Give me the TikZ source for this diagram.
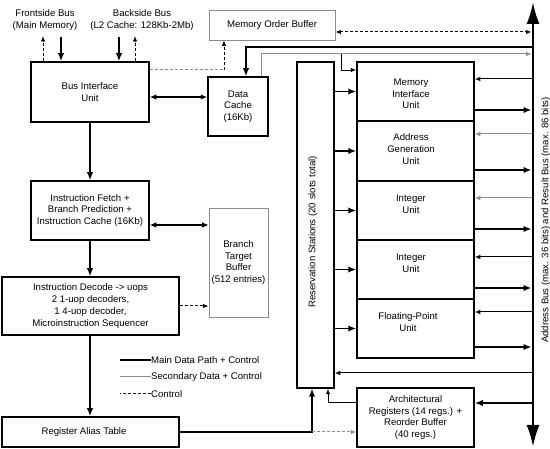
\documentclass[tikz,border=0pt]{standalone}
\usepackage{fontspec}
\setmainfont{Liberation Sans}
\usetikzlibrary{arrows.meta}
\begin{document}
\begin{tikzpicture}[x=1pt,y=-1pt,
  font=\fontsize{9.6}{11.7}\selectfont,
  box/.style={draw, line width=1.5pt, align=center, inner sep=0pt},
  gbox/.style={draw=black!45, line width=0.8pt, align=center, inner sep=0pt},
  txt/.style={align=center, inner sep=0pt},
  mainarrow/.style={line width=1.8pt, -{Latex[length=8pt,width=6.5pt]}},
  thinarrow/.style={line width=1pt, -{Latex[length=5.5pt,width=4.5pt]}},
  secarrow/.style={line width=1pt, draw=black!45, -{Latex[length=5.5pt,width=4.5pt]}},
  ctrlarrow/.style={line width=1pt, dash pattern=on 3pt off 2pt, -{Latex[length=5.5pt,width=4.5pt]}},
  dblarrow/.style={line width=1.3pt, {Latex[length=6.5pt,width=5.5pt]}-{Latex[length=6.5pt,width=5.5pt]}},
]
\useasboundingbox[fill=white] (0,0) rectangle (550,449);

% boxes
\node[box, minimum width=118pt, minimum height=60pt] (biu) at (90,92) {Bus Interface\\Unit};
\node[gbox, minimum width=126pt, minimum height=30pt] (mob) at (272,25) {Memory Order Buffer};
\node[box, minimum width=60pt, minimum height=59pt] (dc) at (238,106.5) {Data\\Cache\\(16Kb)};
\node[box, minimum width=118pt, minimum height=59pt] (ifb) at (90,210.5) {Instruction Fetch +\\Branch Prediction +\\Instruction Cache (16Kb)};
\node[gbox, minimum width=59pt, minimum height=109pt] (btb) at (238.5,262.5) {Branch\\Target\\Buffer\\(512 entries)};
\node[box, minimum width=177pt, minimum height=58pt] (idec) at (90.5,306) {Instruction Decode -> uops\\2 1-uop decoders,\\1 4-uop decoder,\\Microinstruction Sequencer};
\node[box, minimum width=177pt, minimum height=30pt] (rat) at (90.5,432) {};
\node[txt] (ratt) at (84,432) {Register Alias Table};
\node[box, minimum width=37pt, minimum height=326pt] (rs) at (315.5,225) {};
\node[txt, rotate=90] (rslabel) at (313,232) {Reservation Stations (20 slots total)};

\node[box, minimum width=117pt, minimum height=59pt] (miu) at (415.5,91.5) {};
\node[txt] (miut) at (411,94) {Memory\\Interface\\Unit};
\node[box, minimum width=117pt, minimum height=60pt] (agu) at (415.5,151) {};
\node[txt] (agut) at (411,149) {Address\\Generation\\Unit};
\node[box, minimum width=117pt, minimum height=59pt] (int1) at (415.5,210.5) {};
\node[txt] (int1t) at (411,204) {Integer\\Unit};
\node[box, minimum width=117pt, minimum height=59pt] (int2) at (415.5,269.5) {};
\node[txt] (int2t) at (411,263) {Integer\\Unit};
\node[box, minimum width=117pt, minimum height=59pt] (fpu) at (415.5,328.5) {};
\node[txt] (fput) at (408,322) {Floating-Point\\Unit};
\node[box, minimum width=117pt, minimum height=59pt] (arb) at (415.5,417.5) {Architectural\\Registers (14 regs.) +\\Reorder Buffer\\(40 regs.)};

% bus
\coordinate (bustop) at (533,2);
\coordinate (busbot) at (533,447);
\draw[line width=2.6pt, {Latex[length=22pt,width=13pt]}-{Latex[length=22pt,width=13pt]}] (bustop) -- (busbot);
\node[txt, rotate=90] (buslabel) at (546,220) {Address Bus (max. 36 bits) and Result Bus (max. 86 bits)};

% external buses
\coordinate (fsout) at (43,36);
\coordinate (fsin) at (61,37);
\coordinate (bsin) at (119,37);
\coordinate (bsout) at (135,36);
\draw[ctrlarrow] (biu.north -| fsout) -- (fsout);
\draw[mainarrow] (fsin) -- (biu.north -| fsin);
\draw[mainarrow] (bsin) -- (biu.north -| bsin);
\draw[ctrlarrow] (biu.north -| bsout) -- (bsout);
\node[txt] (fslabel) at (45,20) {Frontside Bus\\(Main Memory)};
\node[txt] (bslabel) at (142,20) {Backside Bus\\(L2 Cache: 128Kb-2Mb)};

% pipeline
\draw[mainarrow] (biu.south) -- (ifb.north);
\draw[mainarrow] (ifb.south) -- (ifb.south |- idec.north);
\draw[mainarrow] (ifb.south |- idec.south) -- (ifb.south |- rat.north);

\coordinate (y97) at (0,97);
\draw[dblarrow] (biu.east |- y97) -- (dc.west |- y97);
\coordinate (y225) at (0,225);
\draw[dblarrow, line width=1.1pt] (ifb.east |- y225) -- (btb.west |- y225);
\draw[ctrlarrow] (idec.east) -- (idec.east -| btb.west);

% BIU -> MOB
\coordinate (c70) at (224,70);
\draw[line width=1pt, draw=black!45, dash pattern=on 3pt off 2pt] (biu.east |- c70) -- (c70);
\draw[ctrlarrow] (c70) -- (mob.south -| c70);
% MOB <-> bus
\coordinate (b32) at (531.5,32);
\draw[ctrlarrow, {Latex[length=5.5pt,width=4.5pt]}-{Latex[length=5.5pt,width=4.5pt]}] (mob.east |- b32) -- (b32);

% bus <-> data cache
\coordinate (b47) at (531.5,47);
\coordinate (k47) at (246,47);
\draw[mainarrow] (b47) -- (k47) -- (dc.north -| k47);
\coordinate (k54) at (261,54);
\coordinate (b54) at (531.5,54);
\draw[secarrow] (dc.north -| k54) -- (k54) -- (b54);
\coordinate (k341) at (341,54);
\coordinate (k70) at (341,70);
\draw[thinarrow, line width=0.8pt] (k341) -- (k70) -- (miu.west |- k70);

% RS -> units
\foreach \u in {miu,agu,int1,int2,fpu}{
  \draw[mainarrow] (rs.east |- \u) -- (\u.west);
}

% bus -> units (incoming)
\coordinate (bi1) at (531.5,79);
\coordinate (bi2) at (531.5,134);
\coordinate (bi3) at (531.5,198);
\coordinate (bi4) at (531.5,257);
\coordinate (bi5) at (531.5,312);
\draw[thinarrow] (bi1) -- (miu.east |- bi1);
\draw[secarrow] (bi2) -- (agu.east |- bi2);
\draw[secarrow] (bi3) -- (int1.east |- bi3);
\draw[thinarrow] (bi4) -- (int2.east |- bi4);
\draw[thinarrow] (bi5) -- (fpu.east |- bi5);
% units -> bus (outgoing)
\coordinate (bo1) at (531.5,110);
\coordinate (bo2) at (531.5,170);
\coordinate (bo3) at (531.5,229);
\coordinate (bo4) at (531.5,288);
\coordinate (bo5) at (531.5,347);
\draw[mainarrow] (miu.east |- bo1) -- (bo1);
\draw[mainarrow] (agu.east |- bo2) -- (bo2);
\draw[mainarrow] (int1.east |- bo3) -- (bo3);
\draw[mainarrow] (int2.east |- bo4) -- (bo4);
\draw[mainarrow] (fpu.east |- bo5) -- (bo5);

% bus -> RS, ARB
\coordinate (b373) at (531.5,373);
\draw[thinarrow] (b373) -- (rs.east |- b373);
\coordinate (b403) at (531.5,403);
\draw[mainarrow] (b403) -- (arb.east |- b403);
\coordinate (k328) at (328,403);
\draw[thinarrow] (arb.west |- b403) -- (k328) -- (rs.south -| k328);
\coordinate (k312) at (312,432);
\draw[mainarrow] (rat.east) -- (k312) -- (rs.south -| k312);
\draw[ctrlarrow, draw=black!45] (k312) -- (arb.west |- k312);

% legend
\node[anchor=west, inner sep=0pt] (lg1) at (151,360) {Main Data Path + Control};
\node[anchor=west, inner sep=0pt] (lg2) at (151,377) {Secondary Data + Control};
\node[anchor=west, inner sep=0pt] (lg3) at (151,394) {Control};
\draw[line width=1.8pt] (lg1.west) -- ++(-31,0);
\draw[line width=1pt, draw=black!45] (lg2.west) -- ++(-31,0);
\draw[line width=1pt, dash pattern=on 3pt off 2pt] (lg3.west) -- ++(-31,0);
\end{tikzpicture}
\end{document}
